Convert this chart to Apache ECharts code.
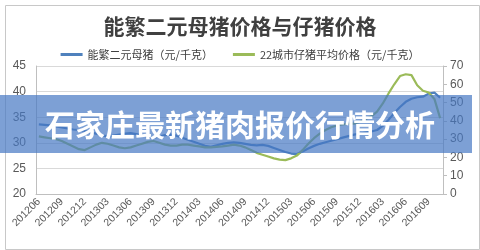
<!DOCTYPE html>
<html>
<head>
<meta charset="utf-8">
<script src="https://cdn.jsdelivr.net/npm/echarts@6/dist/echarts.min.js"></script>
<style>
html,body{margin:0;padding:0;background:#fff;}
#c{width:480px;height:250px;}
</style>
</head>
<body>
<div id="c"></div>
<script>
// tick labels shown on the category axis (every 4th category)
var tickLabels = ['201206','201209','201212','201303','201306','201309','201312','201403','201406','201409','201412','201503','201506','201509','201512','201603','201606','201609'];
// category names (4 observations per tick label, 71 in total)
var categories = [];
tickLabels.forEach(function (t) { categories.push(t, t + '-2', t + '-3', t + '-4'); });
categories = categories.slice(0, 71);

// 能繁二元母猪（元/千克）— left axis
var sowPrice = [33.6,33.5,33.4,33.2,33.0,32.8,32.6,32.5,32.3,32.0,
  31.8,31.5,31.2,31.4,31.6,31.8,31.9,31.7,31.5,31.2,
  31.0,31.2,31.5,31.6,31.4,31.0,30.6,30.2,29.8,29.4,
  29.2,29.5,29.8,30.0,30.1,30.0,29.8,29.6,29.5,29.6,
  29.4,29.0,28.6,28.2,27.9,27.8,28.3,28.9,29.4,29.8,
  30.1,30.4,30.7,31.0,31.3,31.6,31.8,32.0,32.2,32.5,
  33.3,34.5,35.8,37.0,38.0,38.6,38.9,39.0,39.6,39.8,38.8];
// 22城市仔猪平均价格（元/千克）— right axis
var pigletPrice = [31.5,31.0,30.5,30.0,29.0,27.5,26.0,24.5,24.0,25.5,
  27.0,28.0,27.5,26.5,25.5,25.0,25.5,26.5,27.5,28.5,
  29.0,28.0,27.0,26.5,26.5,27.0,27.0,26.5,26.0,25.5,
  25.5,25.8,26.0,26.5,27.0,26.5,25.5,24.0,22.5,21.5,
  20.5,19.5,18.8,18.5,19.5,21.0,24.0,27.5,30.5,33.0,
  35.0,36.5,37.5,38.0,38.5,38.5,39.5,41.0,42.5,45.0,
  49.5,55.0,60.0,64.5,65.5,65.0,59.5,56.5,55.5,52.0,41.5];

var seriesNames = ['能繁二元母猪（元/千克）', '22城市仔猪平均价格（元/千克）'];
var chartTitle = '能繁二元母猪价格与仔猪价格';
var bannerText = '石家庄最新猪肉报价行情分析';

var cjk = '"Noto Sans CJK SC", "Noto Sans", sans-serif';
var chart = echarts.init(document.getElementById('c'), null, {renderer: 'canvas'});
chart.setOption({
  animation: false,
  backgroundColor: '#fff',
  title: {
    text: chartTitle,
    left: 'center',
    top: 11,
    textStyle: {fontFamily: cjk, fontSize: 21, fontWeight: 'bold', color: '#404040'}
  },
  legend: {
    top: 44,
    left: 'center',
    itemWidth: 22,
    itemHeight: 3,
    itemGap: 20,
    icon: 'rect',
    textStyle: {fontFamily: cjk, fontSize: 11, color: '#404040'},
    data: seriesNames
  },
  grid: {left: 36, right: 37, top: 66, bottom: 56, containLabel: false},
  xAxis: {
    type: 'category',
    data: categories,
    boundaryGap: true,
    axisLine: {lineStyle: {color: '#bfbfbf'}},
    axisTick: {show: false},
    axisLabel: {
      interval: 3,
      rotate: 45,
      margin: 6,
      fontFamily: 'Liberation Sans, sans-serif',
      fontSize: 10.5,
      color: '#595959',
      formatter: function (v) { return v.indexOf('-') >= 0 ? '' : v; }
    },
    splitLine: {show: false}
  },
  yAxis: [{
    type: 'value',
    min: 20, max: 45, interval: 5,
    axisLine: {show: true, lineStyle: {color: '#bfbfbf'}},
    axisTick: {show: false},
    axisLabel: {margin: 10, fontFamily: 'Liberation Sans, sans-serif', fontSize: 12, color: '#595959'},
    splitLine: {lineStyle: {color: '#d9d9d9'}}
  }, {
    type: 'value',
    min: 0, max: 70, interval: 10,
    axisLine: {show: true, lineStyle: {color: '#bfbfbf'}},
    axisTick: {show: true, length: 4, lineStyle: {color: '#bfbfbf'}},
    axisLabel: {margin: 7, fontFamily: 'Liberation Sans, sans-serif', fontSize: 12, color: '#595959'},
    splitLine: {show: false}
  }],
  series: [{
    name: seriesNames[0],
    type: 'line',
    yAxisIndex: 0,
    data: sowPrice,
    symbol: 'none',
    lineStyle: {width: 2.2, color: '#4f81bd'},
    itemStyle: {color: '#4f81bd'}
  }, {
    name: seriesNames[1],
    type: 'line',
    yAxisIndex: 1,
    data: pigletPrice,
    symbol: 'none',
    lineStyle: {width: 2.2, color: '#9bbb59'},
    itemStyle: {color: '#9bbb59'}
  }],
  graphic: [{
    type: 'rect',
    left: 3, top: 3,
    shape: {width: 474, height: 244},
    style: {fill: 'none', stroke: '#c8c8c8', lineWidth: 1},
    silent: true, z: 0
  }, {
    type: 'rect',
    left: 0, top: 95,
    shape: {width: 472, height: 58},
    style: {fill: 'rgba(70,120,195,0.70)'},
    silent: true, z: 100
  }, {
    type: 'text',
    x: 240, y: 125,
    style: {
      text: bannerText,
      fill: '#ffffff',
      font: 'bold 30px "Noto Sans CJK SC", sans-serif',
      align: 'center',
      verticalAlign: 'middle',
      shadowColor: 'rgba(0,0,0,0.25)',
      shadowBlur: 2
    },
    silent: true, z: 101
  }]
});
</script>
</body>
</html>
